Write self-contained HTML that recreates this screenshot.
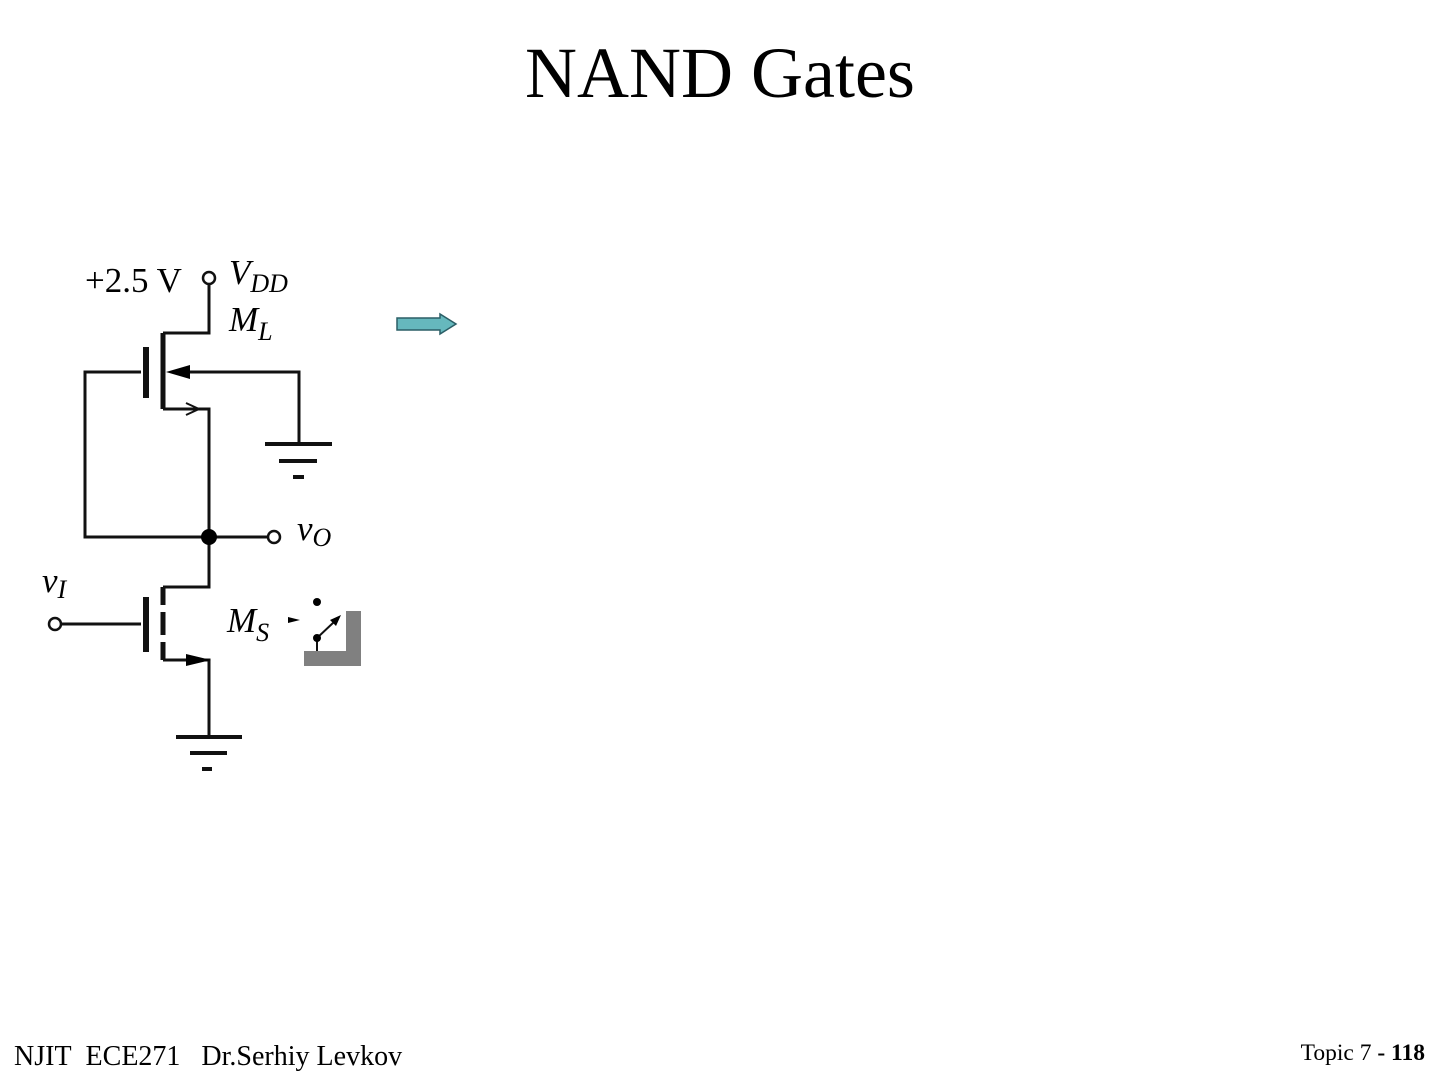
<!DOCTYPE html>
<html><head><meta charset="utf-8"><style>
body{margin:0;width:1440px;height:1080px;background:#fff;position:relative;overflow:hidden;font-family:"Liberation Serif",serif}
.t{position:absolute;white-space:nowrap;color:#000}
</style></head><body>
<div class="t" style="left:0;width:1440px;text-align:center;top:32px;font-size:72px;line-height:82px">NAND Gates</div>
<div class="t" style="left:14px;top:1041px;font-size:28px">NJIT&nbsp; ECE271 &nbsp; Dr.Serhiy Levkov</div>
<div class="t" style="right:15px;top:1040px;font-size:23.5px">Topic 7 <b>- 118</b></div>
<svg width="1440" height="1080" style="position:absolute;left:0;top:0" font-family="Liberation Serif">
<g stroke="#111" stroke-width="3" fill="none">
<circle cx="209" cy="278" r="6" stroke-width="2.5"/>
<path d="M209 284V333H163"/>
<path d="M163 333V409" stroke-width="5"/>
<path d="M146 347V398" stroke-width="6"/>
<path d="M141 372H85V537H209"/>
<path d="M186 372H299V444"/>
<path d="M265 444H332M279 461H317M293 477H304" stroke-width="4"/>
<path d="M163 409H209V537"/>
<path d="M186 403L199 409L186 415" stroke-width="2"/>
<path d="M209 537H268"/>
<circle cx="274" cy="537" r="6" stroke-width="2.5"/>
<path d="M209 537V587H163"/>
<path d="M163 587V605M163 612V635M163 642V660" stroke-width="5"/>
<path d="M146 597V652" stroke-width="6"/>
<path d="M61 624H141"/>
<circle cx="55" cy="624" r="6" stroke-width="2.5"/>
<path d="M163 660H209V737"/>
<path d="M176 737H242M190 753H227M202 769H212" stroke-width="4"/>
<path d="M317 638L334 622M317 638V651" stroke-width="2"/>
</g>
<circle cx="209" cy="537" r="8" fill="#000"/>
<polygon points="166,372 190,365 190,379" fill="#000"/>
<polygon points="211,660 186,654 186,666" fill="#000"/>
<polygon points="288,617 300,620 288,623" fill="#000"/>
<polygon points="341,615 330,620 336,626" fill="#000"/>
<circle cx="317" cy="602" r="4" fill="#000"/>
<circle cx="317" cy="638" r="4" fill="#000"/>
<path d="M346 611H361V666H304V651H346Z" fill="#808080"/>
<text x="85" y="292" font-size="35">+2.5 V</text>
<text x="229" y="284" font-size="35" font-style="italic">V<tspan font-size="26" dy="8">DD</tspan></text>
<text x="229" y="331" font-size="35" font-style="italic">M<tspan font-size="26" dy="9">L</tspan></text>
<text x="297" y="540" font-size="35" font-style="italic">v<tspan font-size="26" dy="6">O</tspan></text>
<text x="42" y="592" font-size="35" font-style="italic">v<tspan font-size="26" dy="6">I</tspan></text>
<text x="227" y="632" font-size="35" font-style="italic">M<tspan font-size="26" dy="9">S</tspan></text>
<polygon points="397,318 440,318 440,314 456,324 440,334 440,330 397,330" fill="#66b8bd" stroke="#2b5e66" stroke-width="1.5"/>
</svg>
</body></html>
